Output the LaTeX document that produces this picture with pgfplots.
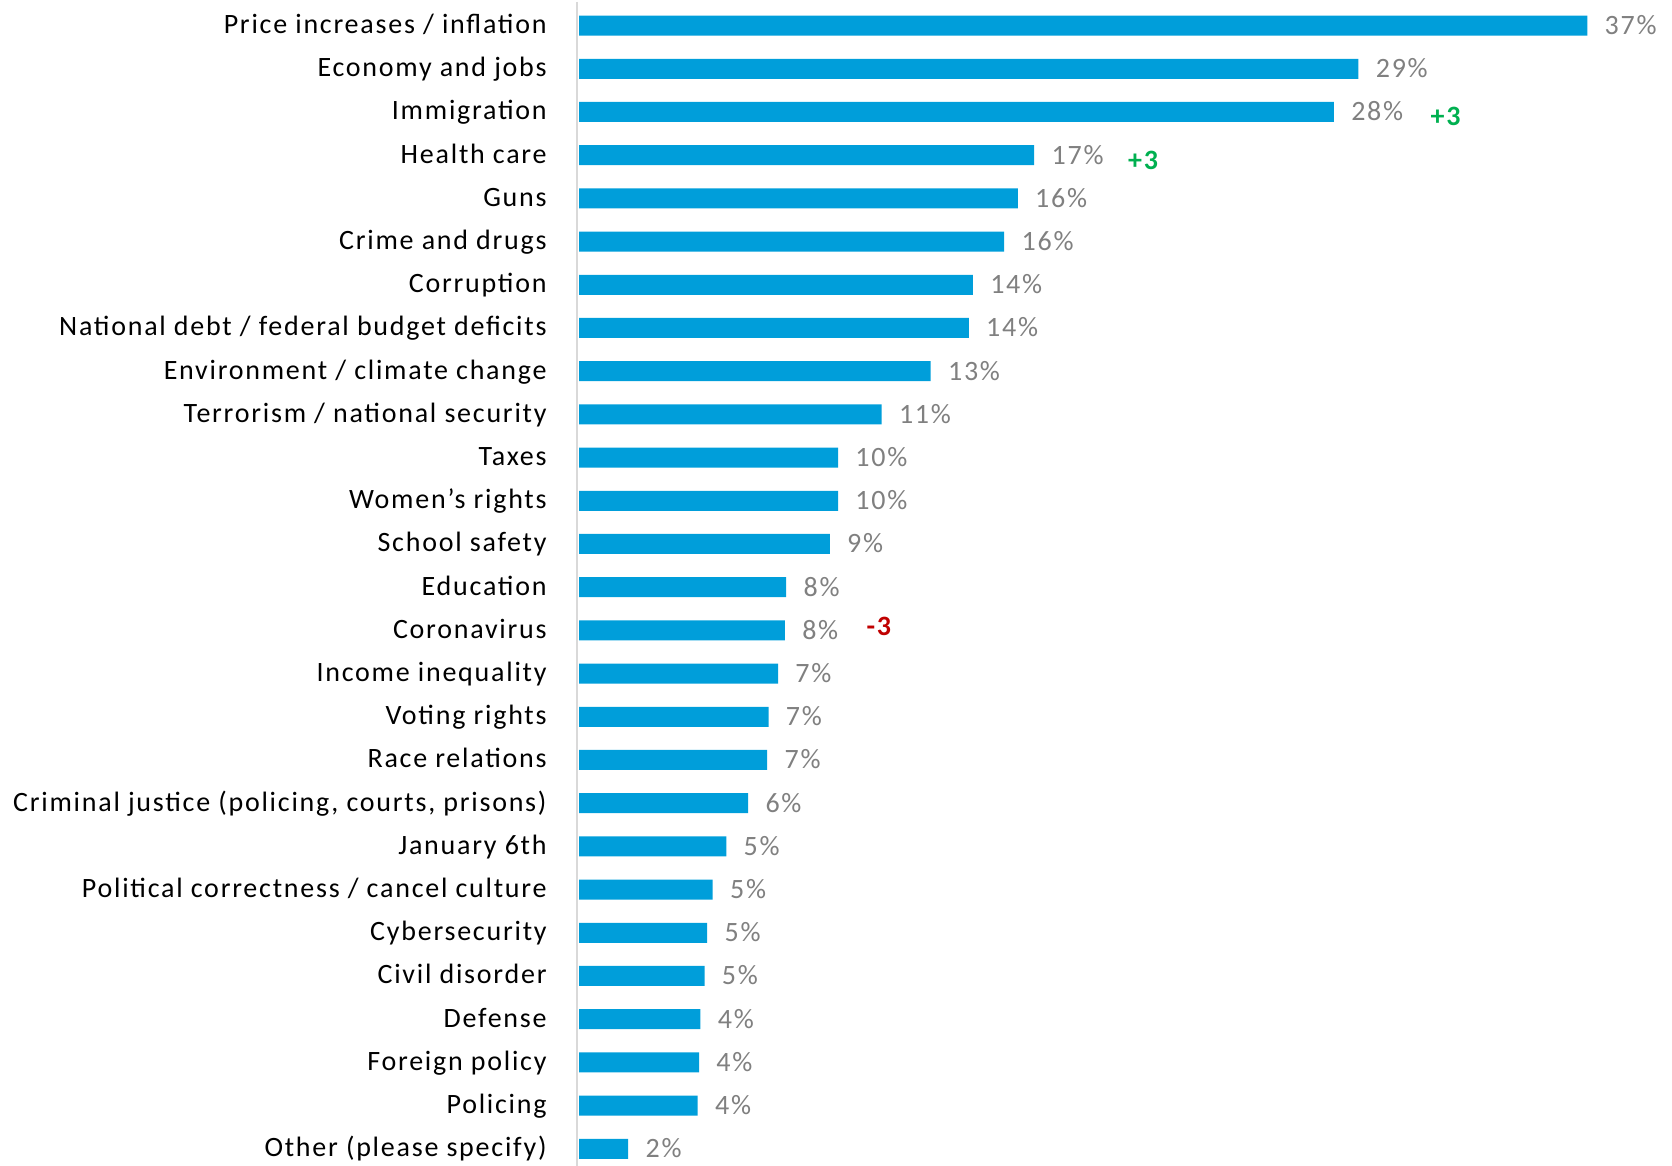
\documentclass[border=0pt]{standalone}
\usepackage{pgfplots}
\pgfplotsset{compat=1.18}
\usepackage{pgfplotstable}
\usepackage{fontspec}
\setmainfont{Carlito}[LetterSpace=6.3]
\definecolor{barblue}{RGB}{0,158,218}
\definecolor{valgray}{RGB}{128,128,128}
\definecolor{upgreen}{RGB}{0,176,80}
\definecolor{downred}{RGB}{192,0,0}
\pgfplotstableread{
idx val lbl
0 37.0 37
1 28.6 29
2 27.7 28
3 16.7 17
4 16.1 16
5 15.6 16
6 14.45 14
7 14.3 14
8 12.9 13
9 11.1 11
10 9.5 10
11 9.5 10
12 9.2 9
13 7.6 8
14 7.55 8
15 7.3 7
16 6.95 7
17 6.9 7
18 6.2 6
19 5.4 5
20 4.9 5
21 4.7 5
22 4.6 5
23 4.45 4
24 4.4 4
25 4.35 4
26 1.8 2
}\datatable
\begin{document}
\begin{tikzpicture}
\path[use as bounding box] (0,0) rectangle (836pt,-583pt);
\begin{axis}[
  at={(288.5pt,-0.9pt)}, anchor=north west,
  scale only axis, width=546pt, height=583.2pt,
  xmin=-0.08, xmax=40, ymin=-0.55, ymax=26.45,
  y dir=reverse,
  axis x line=none,
  axis y line*=left,
  y axis line style={draw=black!15, line width=1pt, -},
  major tick length=0pt,
  ytick={0,...,26},
  yticklabels={
    Price increases / inflation,
    Economy and jobs,
    Immigration,
    Health care,
    Guns,
    Crime and drugs,
    Corruption,
    National debt / federal budget deficits,
    Environment / climate change,
    Terrorism / national security,
    Taxes,
    Women's rights,
    School safety,
    Education,
    Coronavirus,
    Income inequality,
    Voting rights,
    Race relations,
    {Criminal justice (policing, courts, prisons)},
    January 6th,
    Political correctness / cancel culture,
    Cybersecurity,
    Civil disorder,
    Defense,
    Foreign policy,
    Policing,
    Other (please specify)
  },
  yticklabel style={font=\fontsize{14}{16}\selectfont, anchor=base east, inner sep=0pt, xshift=-15pt, yshift=-4pt},
  xbar, bar width=10pt,
  point meta=explicit symbolic,
  nodes near coords={\pgfplotspointmeta\%},
  every node near coord/.style={font=\fontsize{14}{16}\selectfont, text=valgray, anchor=base west, inner sep=0pt, xshift=8.5pt, yshift=-4.5pt},
  clip=false,
]
\addplot[fill=barblue, draw=none] table[x=val, y=idx, meta=lbl] {\datatable};
\node[font=\bfseries\fontsize{14}{16}\selectfont, text=upgreen, anchor=base] at (axis cs:31.8,2) [yshift=-7pt] {+3};
\node[font=\bfseries\fontsize{14}{16}\selectfont, text=upgreen, anchor=base] at (axis cs:20.7,3) [yshift=-7pt] {+3};
\node[font=\bfseries\fontsize{14}{16}\selectfont, text=downred, anchor=base] at (axis cs:11.0,14) [yshift=-2.5pt] {-3};
\end{axis}
\end{tikzpicture}
\end{document}
